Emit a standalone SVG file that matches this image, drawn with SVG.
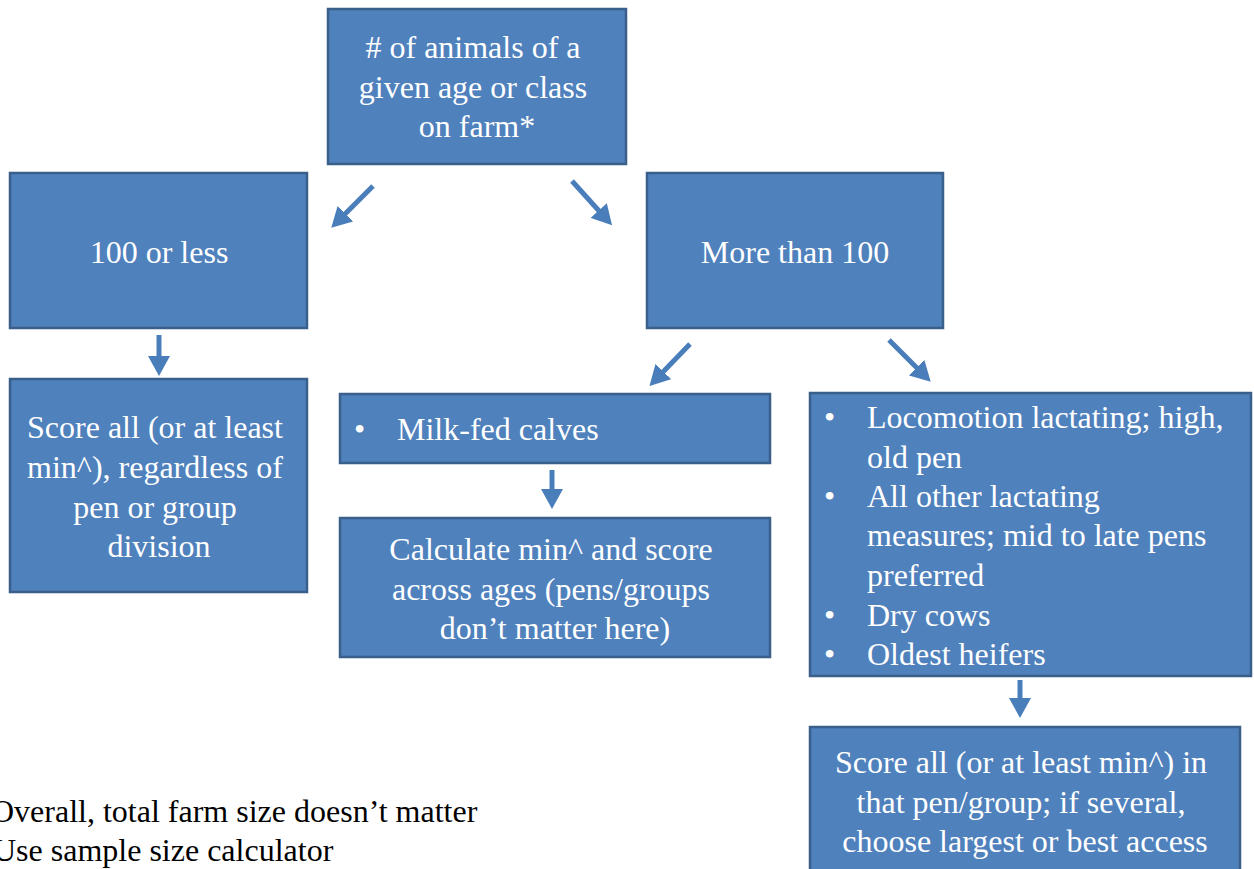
<svg xmlns="http://www.w3.org/2000/svg" width="1254" height="869" viewBox="0 0 1254 869" font-family="Liberation Serif, Tinos, Times New Roman, Noto Serif, DejaVu Serif, serif">
<style>
.box{fill:#4F81BD;stroke:#3A5F8B;stroke-width:2.5}
.t{font-size:32px;fill:#fff}
.c{text-anchor:middle}
.note{font-size:32px;fill:#000}
.arr{stroke:#4A7EBB;stroke-width:5;fill:none;marker-end:url(#ah)}
</style>
<defs>
<marker id="ah" markerUnits="userSpaceOnUse" markerWidth="22" markerHeight="22" refX="2" refY="11" orient="auto">
<path d="M0,0 L20,11 L0,22 Z" fill="#4A7EBB"/>
</marker>
</defs>
<rect width="1254" height="869" fill="#fff"/>
<g id="n-top">
<rect class="box" x="328" y="9" width="298" height="155"/>
<text class="t c" font-family="Liberation Serif, serif">
<tspan x="477" y="58"># of animals of a</tspan>
<tspan x="477" y="98">given age or class</tspan>
<tspan x="477" y="137">on farm*</tspan>
</text>
</g>
<g id="n-less">
<rect class="box" x="10" y="173" width="297" height="155"/>
<text class="t c" x="159" y="263" font-family="Liberation Serif, serif">100 or less</text>
</g>
<g id="n-more">
<rect class="box" x="647" y="173" width="296" height="155"/>
<text class="t c" x="795" y="263" font-family="Liberation Serif, serif">More than 100</text>
</g>
<g id="n-scoreall">
<rect class="box" x="10" y="379" width="297" height="213"/>
<text class="t c" font-family="Liberation Serif, serif">
<tspan x="159" y="438">Score all (or at least</tspan>
<tspan x="159" y="478">min^), regardless of</tspan>
<tspan x="159" y="518">pen or group</tspan>
<tspan x="159" y="557">division</tspan>
</text>
</g>
<g id="n-milk">
<rect class="box" x="340" y="394" width="430" height="69"/>
<text class="t" font-family="Liberation Serif, serif"><tspan x="354" y="440">•</tspan><tspan x="397" y="440">Milk-fed calves</tspan></text>
</g>
<g id="n-calc">
<rect class="box" x="340" y="518" width="430" height="139"/>
<text class="t c" font-family="Liberation Serif, serif">
<tspan x="555" y="560">Calculate min^ and score</tspan>
<tspan x="555" y="600">across ages (pens/groups</tspan>
<tspan x="555" y="639">don’t matter here)</tspan>
</text>
</g>
<g id="n-loco">
<rect class="box" x="810" y="393" width="441" height="283"/>
<text class="t" font-family="Liberation Serif, serif">
<tspan x="824" y="428">•</tspan><tspan x="867" y="428">Locomotion  lactating; high,</tspan>
<tspan x="867" y="468">old pen</tspan>
<tspan x="824" y="507">•</tspan><tspan x="867" y="507">All other lactating</tspan>
<tspan x="867" y="546">measures; mid to late pens</tspan>
<tspan x="867" y="586">preferred</tspan>
<tspan x="824" y="626">•</tspan><tspan x="867" y="626">Dry cows</tspan>
<tspan x="824" y="665">•</tspan><tspan x="867" y="665">Oldest heifers</tspan>
</text>
</g>
<g id="n-scorepen">
<rect class="box" x="810" y="727" width="430" height="150"/>
<text class="t c" font-family="Liberation Serif, serif">
<tspan x="1025" y="773">Score all (or at least min^) in</tspan>
<tspan x="1025" y="813">that pen/group; if several,</tspan>
<tspan x="1025" y="852">choose largest or best access</tspan>
</text>
</g>
<g id="notes">
<text class="note" font-family="Liberation Serif, serif"><tspan x="-9" y="822">Overall, total farm size doesn’t matter</tspan><tspan x="-7" y="861">Use sample size calculator</tspan></text>
</g>
<g id="connectors">
<line class="arr" x1="373" y1="186" x2="344" y2="215"/>
<line class="arr" x1="572" y1="181" x2="600" y2="212"/>
<line class="arr" x1="159" y1="335" x2="159" y2="358"/>
<line class="arr" x1="690" y1="344" x2="662" y2="373"/>
<line class="arr" x1="889" y1="340" x2="918" y2="369"/>
<line class="arr" x1="552" y1="470" x2="552" y2="491"/>
<line class="arr" x1="1020" y1="680" x2="1020" y2="700"/>
</g>
</svg>
